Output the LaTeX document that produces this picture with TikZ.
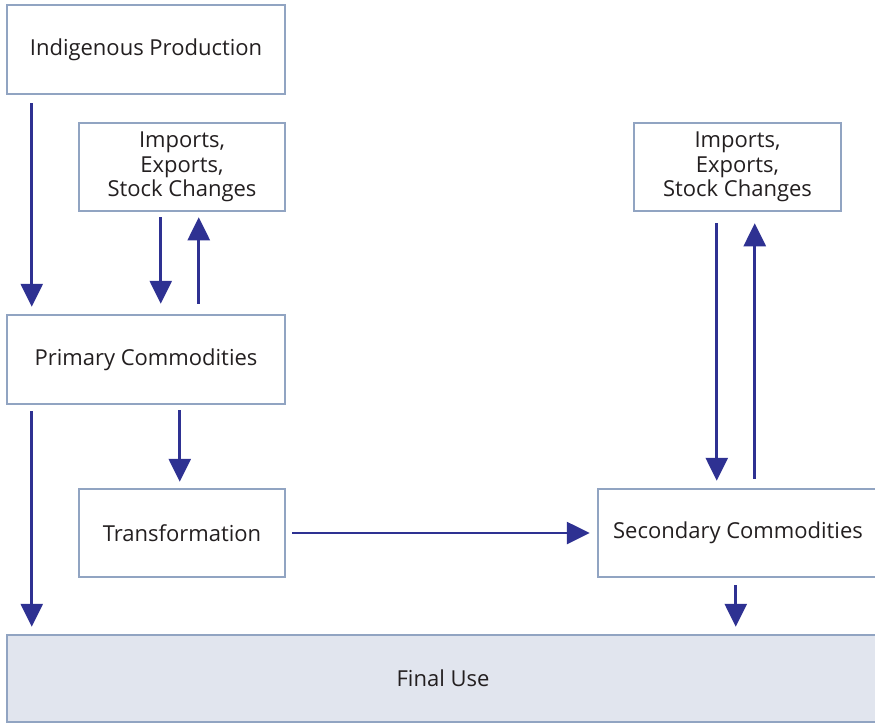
\documentclass[tikz,border=0pt]{standalone}
\usepackage{fontspec}
\setmainfont{Open Sans}
\usetikzlibrary{arrows.meta}
\definecolor{boxline}{RGB}{145,164,194}
\definecolor{arrowc}{RGB}{46,49,146}
\definecolor{finalfill}{RGB}{225,229,238}
\definecolor{textc}{RGB}{35,31,32}
\tikzset{
  box/.style={draw=boxline, line width=2.5pt, fill=white, inner sep=0pt,
    align=center, font=\fontsize{22}{24.5}\selectfont, text=textc},
  arr/.style={draw=arrowc, line width=2.7pt, -{Triangle[width=22pt,length=23pt]}}
}
\begin{document}
\begin{tikzpicture}[x=1pt,y=-1pt]
\useasboundingbox (0,0) rectangle (875,724);
\node[box, minimum width=278pt, minimum height=89pt] (ind) at (146,49.5) {Indigenous Production};
\node[box, minimum width=206pt, minimum height=88pt] (impL) at (182,167) {Imports,\\Exports,\\Stock Changes};
\node[box, minimum width=207pt, minimum height=88pt] (impR) at (737.5,167) {Imports,\\Exports,\\Stock Changes};
\node[box, minimum width=278pt, minimum height=89pt] (prim) at (146,359.5) {Primary Commodities};
\node[box, minimum width=206pt, minimum height=88pt] (trans) at (182,533) {Transformation};
\node[box, minimum width=280pt, minimum height=88pt] (sec) at (738,533) {Secondary Commodities};
\node[box, fill=finalfill, minimum width=872pt, minimum height=87pt] (fin) at (443,678.5) {Final Use};
% arrows
\draw[arr, shorten <=8pt, shorten >=7pt] ([xshift=26pt]ind.south west) -- ([xshift=26pt]prim.north west);
\draw[arr, shorten <=5pt, shorten >=10pt] ([xshift=83pt]impL.south west) -- ([xshift=155pt]prim.north west);
\draw[arr, shorten <=10pt, shorten >=5pt] ([xshift=193pt]prim.north west) -- ([xshift=121pt]impL.south west);
\draw[arr, shorten <=6pt, shorten >=7pt] ([xshift=26pt]prim.south west) -- ([xshift=26pt]fin.north west);
\draw[arr, shorten <=5pt, shorten >=6pt] ([xshift=174pt]prim.south west) -- ([xshift=102pt]trans.north west);
\draw[arr, shorten <=6pt, shorten >=7pt] (trans.east) -- (sec.west);
\draw[arr, shorten <=11pt, shorten >=7pt] ([xshift=84pt]impR.south west) -- ([xshift=120pt]sec.north west);
\draw[arr, shorten <=9pt, shorten >=11pt] ([xshift=158pt]sec.north west) -- ([xshift=122pt]impR.south west);
\draw[arr, shorten <=7pt, shorten >=7pt] ([xshift=139pt]sec.south west) -- ([xshift=730pt]fin.north west);
\end{tikzpicture}
\end{document}
